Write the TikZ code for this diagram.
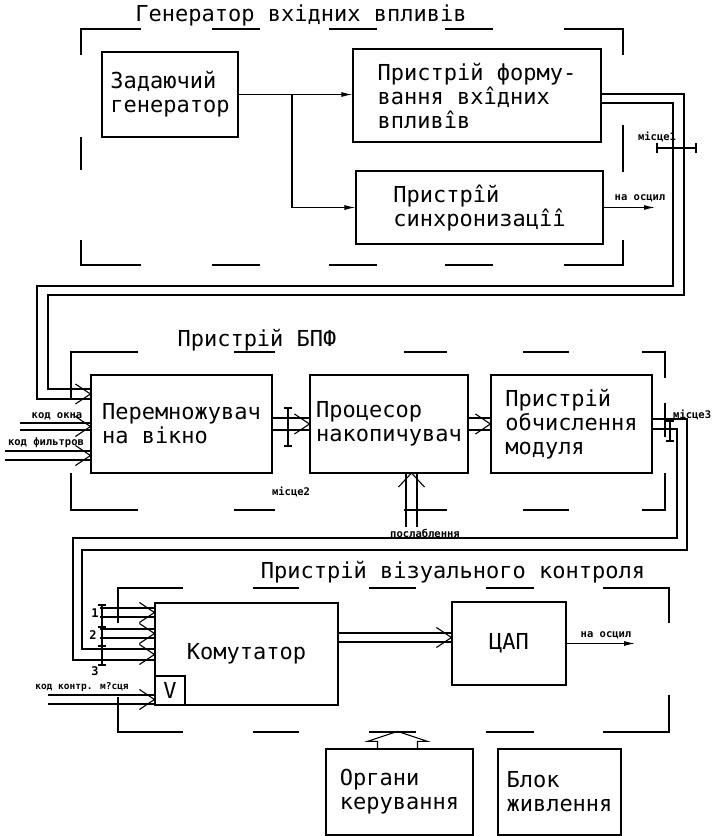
\documentclass[tikz,border=0pt]{standalone}
\usepackage{fontspec}
\setmainfont{DejaVu Sans Mono}
\usetikzlibrary{arrows.meta,calc}
% open chevron at the end of a two-line bus
\newcommand{\chev}[1]{\draw[ln] #1 ++(-15,-10) -- #1 -- ++(-15,10);}
\tikzset{
  ln/.style={line width=1.1pt},
  rama/.style={line width=1.3pt},
  blok/.style={draw,line width=1.2pt,align=left,inner sep=0pt,font=\fontsize{22}{24}\selectfont},
  nadp/.style={inner sep=0pt,font=\fontsize{22}{24}\selectfont},
  mitka/.style={inner sep=0pt,font=\fontsize{10.5}{12}\selectfont\bfseries},
  nomer/.style={inner sep=0pt,font=\fontsize{12}{12}\selectfont\bfseries},
  sig/.style={ln,-{Latex[length=11pt,width=5pt]}}
}

\begin{document}
\begin{tikzpicture}[x=1pt,y=-1pt]
  \useasboundingbox (0,0) rectangle (714,836);
  % Generator of input effects
  \node[nadp] (t1) at (301,15) {Генератор вхідних впливів};
  \draw[rama] (81,55) |- (141,29) (212,29) -- (260,29) (329,29) -- (377,29) (445,29) -- (493,29) (564,29) -| (623,55)
    (81,240) |- (141,265) (212,265) -- (260,265) (329,265) -- (377,265) (445,265) -- (493,265) (564,265) -| (623,240)
    (81,137) -- (81,170) (623,125) -- (623,172);
  \node[blok,minimum width=136pt,minimum height=85pt] (zg) at (170,94.5) {Задаючий\\генератор};
  \node[blok,minimum width=248pt,minimum height=93pt] (fv) at (477,95.5) {Пристрій форму-\\вання вхîдних\\впливîв};
  \node[blok,minimum width=247pt,minimum height=73pt] (sy) at (479.5,207.5) {Пристрîй\\синхронизацîî};
  \coordinate (br) at (292,95);
  \draw[sig] (zg.east) -- (zg.east -| fv.west);
  \draw[sig] (br) |- (sy.west);
  \coordinate (osc1) at (655,208);
  \draw[sig] (sy.east) -- (sy.east -| osc1);
  \node[mitka] (lOsc1) at (640,198) {на осцил};
  % bus to the FFT unit
  \coordinate (c1) at (684,295);
  \coordinate (c2) at (48,389);
  \coordinate (c3) at (673,286);
  \coordinate (c4) at (37,399);
  \draw[ln] ([yshift=1.5pt]fv.east) -| (c1) -| (c2) -- (c2 -| 91,0);
  \draw[ln] ([yshift=-7.5pt]fv.east) -| (c3) -| (c4) -- (c4 -| 91,0);
  \draw[ln] (657,148) -- (696,148) (657,143) -- (657,153) (696,143) -- (696,153);
  \fill (673,148) circle (1.6) (684,148) circle (1.6);
  \node[mitka] (lM1) at (657,137) {місце1};
  % FFT unit
  \node[nadp] (t2) at (257,340) {Пристрій БПФ};
  \draw[rama] (71,399) |- (138,352) (234,352) -- (275,352) (404,352) -- (447,352) (523,352) -- (569,352) (642,352) -| (665,378)
    (71,473) |- (138,510) (234,510) -- (275,510) (404,510) -- (447,510) (523,510) -- (569,510) (642,510) -| (665,473)
    (665,403) -- (665,437);
  \node[blok,minimum width=181pt,minimum height=98pt] (pm) at (181.5,424) {Перемножувач\\на вікно};
  \node[blok,minimum width=158pt,minimum height=98pt] (pn) at (389,424) {Процесор\\накопичувач};
  \node[blok,minimum width=161pt,minimum height=98pt] (om) at (571.5,424) {Пристрій\\обчислення\\модуля};
  \chev{($(c2 -| pm.west)!.5!(c4 -| pm.west)$)}
  \coordinate (ko1) at (20,423);
  \coordinate (ko2) at (20,430);
  \coordinate (kf1) at (5,451);
  \coordinate (kf2) at (5,460);
  \draw[ln] (ko1) -- (ko1 -| pm.west) (ko2) -- (ko2 -| pm.west);
  \draw[ln] (kf1) -- (kf1 -| pm.west) (kf2) -- (kf2 -| pm.west);
  \chev{($(ko1 -| pm.west)!.5!(ko2 -| pm.west)$)}
  \chev{($(kf1 -| pm.west)!.5!(kf2 -| pm.west)$)}
  \node[mitka] (lKo) at (57,416) {код окна};
  \node[mitka] (lKf) at (46,443) {код фильтров};
  \draw[ln] ([yshift=6pt]pm.east) -- ([yshift=6pt]pn.west) ([yshift=-6pt]pm.east) -- ([yshift=-6pt]pn.west);
  \chev{(pn.west)}
  \draw[ln] ([yshift=6pt]pn.east) -- ([yshift=6pt]om.west) ([yshift=-6pt]pn.east) -- ([yshift=-6pt]om.west);
  \chev{(om.west)}
  \draw[ln] (288,408) -- (288,446) (284,408) -- (292,408) (284,446) -- (292,446);
  \node[mitka] (lM2) at (291,492) {місце2};
  % attenuation input
  \coordinate (q1) at (406,527);
  \coordinate (q2) at (417,527);
  \coordinate (qt) at (411.5,473);
  \draw[ln] (q1) -- (q1 |- pn.south) (q2) -- (q2 |- pn.south);
  \draw[ln] (qt) ++(-13,14) -- (qt) -- ++(13,14);
  \node[mitka] (lPos) at (425,533) {послаблення};
  % bus to the visual control unit
  \coordinate (d1) at (687,550);
  \coordinate (d2) at (82,649);
  \coordinate (d3) at (677,538);
  \coordinate (d4) at (73,660);
  \draw[ln] ([yshift=5pt]om.east) -| (d1) -| (d2) -- (d2 -| 155,0);
  \draw[ln] ([yshift=-5pt]om.east) -| (d3) -| (d4) -- (d4 -| 155,0);
  \draw[ln] (670,421) -- (670,441) (666,421) -- (674,421) (666,441) -- (674,441);
  \fill (670,429) circle (1.6);
  \node[mitka,anchor=west] (lM3) at (673,415) {місце3};
  % Visual control unit
  \node[nadp] (t3) at (453,572) {Пристрій візуального контроля};
  \draw[rama] (118,623) |- (183,588) (253,588) -- (299,588) (369,588) -- (416,588) (486,588) -- (534,588) (603,588) -| (669,623)
    (118,697) |- (183,732) (253,732) -- (299,732) (369,732) -- (416,732) (486,732) -- (534,732) (603,732) -| (669,695);
  \node[blok,minimum width=183pt,minimum height=102pt] (kom) at (246.5,654) {Комутатор};
  \node[blok,minimum width=30pt,minimum height=29pt,align=center] (vv) at (170,690.5) {V};
  \node[blok,minimum width=114pt,minimum height=83pt,align=center] (dac) at (509,643.5) {ЦАП};
  \chev{($(d2 -| kom.west)!.5!(d4 -| kom.west)$)}
  \coordinate (p1a) at (100,608);
  \coordinate (p1b) at (100,617);
  \coordinate (p2a) at (100,629);
  \coordinate (p2b) at (100,638);
  \draw[ln] (p1a) -- (p1a -| kom.west) (p1b) -- (p1b -| kom.west);
  \draw[ln] (p2a) -- (p2a -| kom.west) (p2b) -- (p2b -| kom.west);
  \chev{($(p1a -| kom.west)!.5!(p1b -| kom.west)$)}
  \chev{($(p2a -| kom.west)!.5!(p2b -| kom.west)$)}
  \draw[ln] (102,605) -- (102,665) (98,605) -- (106,605) (98,627) -- (106,627) (98,646) -- (106,646) (98,665) -- (106,665);
  \node[nomer] (n1) at (95,613) {1};
  \node[nomer] (n2) at (93,635) {2};
  \node[nomer] (n3) at (95,671) {3};
  \coordinate (kk1) at (48,695);
  \coordinate (kk2) at (48,704);
  \draw[ln] (kk1) -- (kk1 -| vv.west) (kk2) -- (kk2 -| vv.west);
  \chev{($(kk1 -| vv.west)!.5!(kk2 -| vv.west)$)}
  \node[mitka,font=\fontsize{9.5}{11}\selectfont\bfseries] (lKk) at (82,687) {код контр. м?сця};
  \draw[ln] ([yshift=21pt]kom.east) -- ([yshift=10.5pt]dac.west) ([yshift=12pt]kom.east) -- ([yshift=1.5pt]dac.west);
  \chev{([yshift=6pt]dac.west)}
  \coordinate (osc2) at (635,645);
  \draw[sig] (dac.east) -- (dac.east -| osc2);
  \node[mitka] (lOsc2) at (606,635) {на осцил};
  % Controls and power supply
  \node[blok,minimum width=147pt,minimum height=86pt] (ok) at (399.5,792) {Органи\\керування};
  \node[blok,minimum width=123pt,minimum height=86pt] (bz) at (559.5,792) {Блок\\живлення};
  \coordinate (ot) at ($(ok.north)+(-2,-17)$);
  \draw[ln] ($(ok.north)+(-22,0)$) |- ($(ot)+(-30,10)$) -- (ot) -- ($(ot)+(30,10)$) -| ($(ok.north)+(18,0)$);
\end{tikzpicture}
\end{document}
